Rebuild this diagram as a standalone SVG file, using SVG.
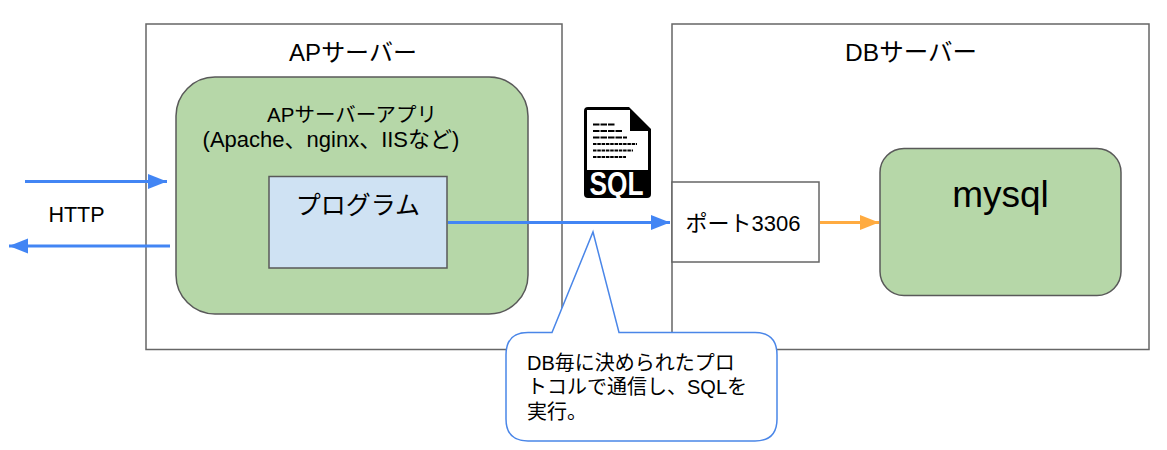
<svg xmlns="http://www.w3.org/2000/svg" width="1167" height="450" viewBox="0 0 1167 450">
<style>
text{font-family:"Liberation Sans","Noto Sans CJK JP",sans-serif;fill:#000}
.box{fill:#fff;stroke:#666;stroke-width:1.5}
.green{fill:#b6d7a8;stroke:#595959;stroke-width:1.5}
.conn{fill:none;stroke-width:3}
.m{text-anchor:middle}
.dash{stroke:#000;stroke-width:2;stroke-dasharray:6.500 1;fill:none}
.dash2{stroke:#000;stroke-width:2;stroke-dasharray:3.500 .8;fill:none}
</style>
<defs>
<marker id="ab" markerUnits="userSpaceOnUse" markerWidth="20" markerHeight="16" refX="19" refY="7.5" orient="auto"><path d="M0 0L19 7.5L0 15z" fill="#4285f4"/></marker>
<marker id="ao" markerUnits="userSpaceOnUse" markerWidth="20" markerHeight="16" refX="19" refY="7.5" orient="auto"><path d="M0 0L19 7.5L0 15z" fill="#ffab40"/></marker>
</defs>
<g id="ap-server"><rect class="box" x="146" y="24" width="416" height="325.500"/><text class="m" x="353" y="61" font-size="24">APサーバー</text></g>
<g id="db-server"><rect class="box" x="672" y="24" width="477" height="325.500"/><text class="m" x="911" y="61" font-size="24.500">DBサーバー</text></g>
<g id="ap-app"><rect class="green" x="176" y="77" width="352" height="237" rx="39"/><text class="m" x="352" y="122" font-size="20.500">APサーバーアプリ</text><text class="m" x="331" y="147" font-size="22">(Apache、nginx、IISなど)</text></g>
<g id="program"><rect x="269" y="176.500" width="178" height="91.500" fill="#cfe2f3" stroke="#595959" stroke-width="1.500"/><text class="m" x="358" y="214" font-size="25">プログラム</text></g>
<g id="port"><rect class="box" x="672" y="182" width="147" height="80"/><text class="m" x="743" y="231" font-size="22">ポート3306</text></g>
<g id="mysql"><rect class="green" x="880" y="148.500" width="241" height="147" rx="24"/><text class="m" x="1000.500" y="207" font-size="37">mysql</text></g>
<g id="http-label"><text class="m" x="76.500" y="222" font-size="21.500">HTTP</text></g>
<g id="connectors">
<path class="conn" stroke="#4285f4" marker-end="url(#ab)" d="M25 181.500H167"/>
<path class="conn" stroke="#4285f4" marker-end="url(#ab)" d="M170 246H9"/>
<path class="conn" stroke="#4285f4" marker-end="url(#ab)" d="M448 222.500H670"/>
<path class="conn" stroke="#ffab40" marker-end="url(#ao)" d="M820 222.500H879"/>
</g>
<g id="sql-icon">
<path d="M588 107H629L651 129V194Q651 198 647 198H588Q584 198 584 194V111Q584 107 588 107Z" fill="#000"/>
<path d="M587 110H630V131H648V170H587Z" fill="#fff"/>
<path class="dash" d="M593 124.500H615M593 131H622M593 137.500H627"/>
<path class="dash2" d="M593 144H637M593 150.500H633M593 157H626"/>
<text x="616.500" y="195" font-size="33" font-weight="bold" class="m" textLength="54" lengthAdjust="spacingAndGlyphs" style="fill:#fff">SQL</text>
</g>
<g id="callout">
<path d="M552 332.500L593 232L619 332.500H755Q777 332.500 777 355V419Q777 441 755 441H528Q506 441 506 419V355Q506 332.500 528 332.500Z" fill="#fff" stroke="#4a86e8" stroke-width="1.500"/>
<text x="527" y="370" font-size="20">DB毎に決められたプロ</text>
<text x="527" y="394" font-size="20">トコルで通信し、SQLを</text>
<text x="527" y="419" font-size="20">実行。</text>
</g>
</svg>
